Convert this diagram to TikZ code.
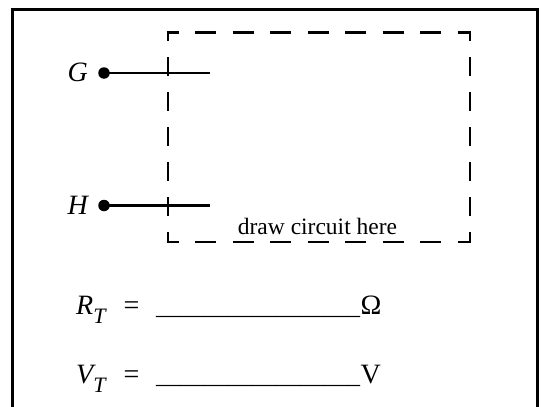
\documentclass[tikz,border=0pt]{standalone}
\usepackage{fontspec}
\setmainfont{Liberation Serif}
\begin{document}
\begin{tikzpicture}[x=1pt,y=-1pt,
  lbl/.style={font=\fontsize{28}{28}\selectfont\itshape, inner sep=0pt},
  txt/.style={font=\fontsize{28}{28}\selectfont, inner sep=0pt},
  blank/.style={font=\fontsize{24}{24}\selectfont, inner sep=0pt},
  note/.style={font=\fontsize{23.5}{23.5}\selectfont, inner sep=0pt},
  dot/.style={circle, fill=black, inner sep=0pt, minimum size=11.5pt},
  wire/.style={line width=2.2pt},
  frame/.style={line width=3pt},
  hdash/.style={line width=2.6pt, dash pattern=on 21pt off 16.5pt, dash phase=9.2pt},
  vdash/.style={line width=2.6pt, dash pattern=on 19pt off 16pt, dash phase=9pt}]
\useasboundingbox (0,0) rectangle (541,407);
% outer frame (open at the bottom)
\coordinate (fbl) at (12.3,412);
\coordinate (ftl) at (12.3,9.3);
\coordinate (ftr) at (537,9.3);
\coordinate (fbr) at (537,412);
\draw[frame] (fbl) -- (ftl) -- (ftr) -- (fbr);
% dashed box
\coordinate (tl) at (168,32.3);
\coordinate (tr) at (470,32.3);
\coordinate (bl) at (168,242);
\coordinate (br) at (470,242);
\draw[hdash] ([xshift=-1.3pt]tl) -- ([xshift=1.3pt]tr);
\draw[hdash] ([xshift=-1.3pt]bl) -- ([xshift=1.3pt]br);
\draw[vdash] ([yshift=1.3pt]tl) -- ([yshift=-1.3pt]bl);
\draw[vdash] ([yshift=1.3pt]tr) -- ([yshift=-1.3pt]br);
% terminals
\node[dot] (Gdot) at (104,73) {};
\coordinate (Gend) at (209.5,73);
\draw[wire] (Gdot.center) -- (Gend);
\node[lbl, anchor=base east] (Glbl) at (88,81.5) {G};
\node[dot] (Hdot) at (104,205.5) {};
\coordinate (Hend) at (210,205.5);
\draw[wire] (Hdot.center) -- (Hend);
\node[lbl, anchor=base east] (Hlbl) at (88,214) {H};
\node[note, anchor=base] (note) at (317.5,234) {draw circuit here};
% answer lines
\node[lbl, anchor=base west] (Rlbl) at (76,314) {R\raisebox{-9pt}{\fontsize{22}{22}\selectfont T}};
\node[txt, anchor=base] (Req) at (131.5,314) {=};
\node[blank, anchor=base west] (Rblank) at (156,314) {\_\_\_\_\_\_\_\_\_\_\_\_\_\_\_\_\_};
\node[txt, anchor=base west] (Rohm) at (360.5,314) {Ω};
\node[lbl, anchor=base west] (Vlbl) at (76,383) {V\raisebox{-9pt}{\fontsize{22}{22}\selectfont T}};
\node[txt, anchor=base] (Veq) at (131.5,383) {=};
\node[blank, anchor=base west] (Vblank) at (156,383) {\_\_\_\_\_\_\_\_\_\_\_\_\_\_\_\_\_};
\node[txt, anchor=base west] (Vunit) at (360.5,383) {V};
\end{tikzpicture}
\end{document}
